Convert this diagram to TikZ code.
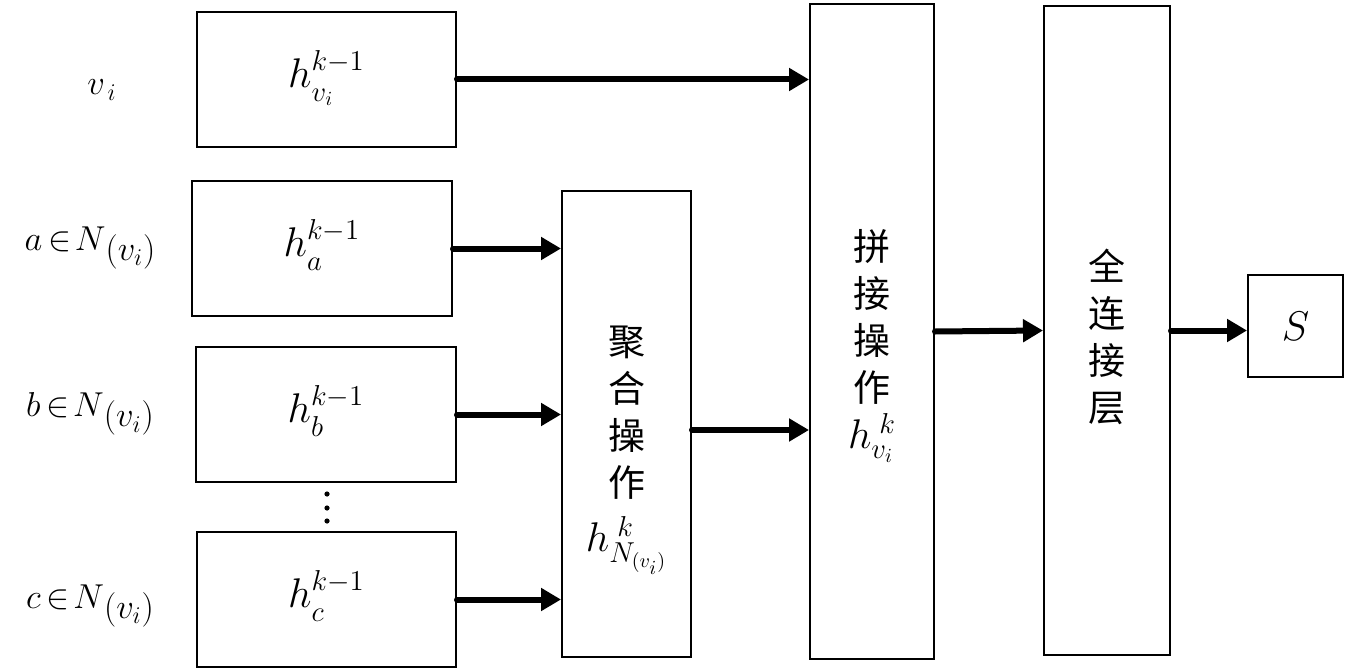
\documentclass[tikz,border=0pt]{standalone}
\usepackage{amsmath}
\usepackage{fontspec}
\newfontfamily\cjk{Noto Sans CJK SC}
\usetikzlibrary{arrows.meta}
\newcommand{\nbr}{$\,\in\! N$\raisebox{-0.28em}{$(v_{i})$}}
\begin{document}
\begin{tikzpicture}[x=0.5pt,y=-0.5pt,
  font=\fontsize{20}{24}\selectfont,
  box/.style={draw,line width=1pt,inner sep=0pt},
  side/.style={font=\fontsize{18.5}{22}\selectfont},
  conn/.style={line width=3pt,line cap=round,-{Triangle[length=10pt,width=11pt]}},
  cjkstack/.style={align=center,font=\fontsize{18.5}{23.5}\selectfont\cjk,inner sep=0pt}]
\path[use as bounding box] (0,0) rectangle (1352,668);
% input boxes
\node[box,minimum width=129.5pt,minimum height=67.5pt] (hv) at (326.5,79.5) {$h^{k-1}_{\mathstrut v_{i}}$};
\node[box,minimum width=130pt,minimum height=67.5pt] (ha) at (322,248.5) {$h^{k-1}_{\mathstrut a}$};
\node[box,minimum width=130pt,minimum height=67.5pt] (hb) at (326,414.5) {$h^{k-1}_{\mathstrut b}$};
\node[box,minimum width=129.5pt,minimum height=67.5pt] (hc) at (326.5,599.5) {$h^{k-1}_{\mathstrut c}$};
% left labels
\node[side] (lv) at (102,90) {$v_{\,i}$};
\node[side] (la) at (90,248) {$a$\nbr};
\node[side] (lb) at (90,414) {$b$\nbr};
\node[side] (lc) at (90,606) {$c$\nbr};
% dots
\foreach \yy in {494,508,521} \fill (327,\yy) circle (1.3pt);
% aggregation
\node[box,minimum width=64.5pt,minimum height=233pt] (agg) at (626.5,424) {};
\node[cjkstack] (aggt) at (626.5,450) {聚\\合\\操\\作\\[4pt]{\fontsize{20}{24}\selectfont$h^{\;k}_{N_{(v_{i})}}$}};
% concatenation
\node[box,minimum width=62pt,minimum height=327.5pt] (cat) at (872,331.5) {};
\node[cjkstack] (catt) at (872,346) {拼\\接\\操\\作\\[0pt]{\fontsize{20}{24}\selectfont$h^{\;k}_{v_{i}}$}};
% fully connected
\node[box,minimum width=63pt,minimum height=324.5pt] (fc) at (1107,330.5) {};
\node[cjkstack] (fct) at (1107,337) {全\\连\\接\\层};
% output
\node[box,minimum width=47.5pt,minimum height=51pt] (s) at (1295.5,326) {$S$};
% connectors
\draw[conn] (hv.east) -- (hv.east -| cat.west);
\draw[conn] (ha.east) -- (ha.east -| agg.west);
\draw[conn] (hb.east) -- (hb.east -| agg.west);
\draw[conn] (hc.east) -- (hc.east -| agg.west);
\draw[conn] ([yshift=-3pt]agg.east) -- ([yshift=-3pt]agg.east -| cat.west);
\draw[conn] (cat.east) -- (fc.west);
\draw[conn] (fc.east) -- (fc.east -| s.west);
\end{tikzpicture}
\end{document}
